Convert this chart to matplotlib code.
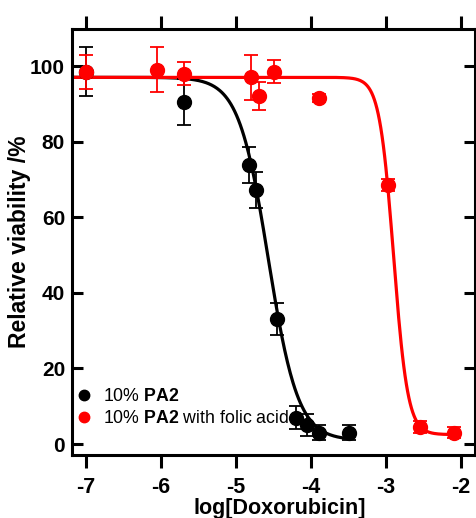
import numpy as np
import matplotlib
matplotlib.use("Agg")
import matplotlib.pyplot as plt
from matplotlib.lines import Line2D

plt.rcParams['font.family'] = ['Liberation Sans', 'DejaVu Sans']
plt.rcParams['mathtext.fontset'] = 'custom'
plt.rcParams['mathtext.rm'] = 'Liberation Sans'
plt.rcParams['mathtext.bf'] = 'Liberation Sans:bold'

# measured points: 10% PA2
pa2_x = [-7.0, -5.7, -4.83, -4.73, -4.45, -4.2, -4.05, -3.9, -3.5]
pa2_y = [98.5, 90.5, 73.8, 67.2, 33.0, 7.0, 5.0, 3.0, 3.0]
pa2_err = [6.5, 6.0, 4.7, 4.8, 4.2, 3.0, 3.0, 2.0, 2.0]

# measured points: 10% PA2 with folic acid
fa_x = [-7.0, -6.05, -5.7, -4.8, -4.7, -4.5, -3.9, -2.98, -2.55, -2.1]
fa_y = [98.5, 99.0, 98.0, 97.0, 92.0, 98.5, 91.5, 68.5, 4.5, 3.0]
fa_err = [4.5, 6.0, 3.0, 6.0, 3.7, 3.0, 1.0, 1.5, 1.5, 1.5]

# dose-response fit parameters (top, bottom, logIC50, hill, x range)
pa2_fit = [97.0, 1.0, -4.57, 2.2, -7.19, -3.5]
fa_fit = [97.0, 2.5, -2.9, 4.6, -7.19, -2.1]

x_ticks = [-7, -6, -5, -4, -3, -2]
y_ticks = [0, 20, 40, 60, 80, 100]

labels = [r'10% $\mathbf{PA2}$', r'10% $\mathbf{PA2}$ with folic acid']
colors = ['black', '#ff0000']


def logistic(fit):
    top, bottom, ic50, hill, x0, x1 = fit
    xs = np.linspace(x0, x1, 300)
    ys = bottom + (top - bottom) / (1 + 10 ** ((xs - ic50) * hill))
    return xs, ys


fig = plt.figure(figsize=(4.77, 5.18), dpi=100)
ax = fig.add_axes([0.151, 0.1216, 0.845, 0.8225])

xs, ys = logistic(pa2_fit)
ax.plot(xs, ys, color=colors[0], lw=2.3, zorder=2)
xs, ys = logistic(fa_fit)
ax.plot(xs, ys, color=colors[1], lw=2.3, zorder=2)

ax.errorbar(pa2_x, pa2_y, yerr=pa2_err, fmt='o', color=colors[0], ms=10,
            ecolor=colors[0], elinewidth=1.3, capsize=5, capthick=1.3, zorder=3)
ax.errorbar(fa_x, fa_y, yerr=fa_err, fmt='o', color=colors[1], ms=10,
            ecolor=colors[1], elinewidth=1.3, capsize=5, capthick=1.3, zorder=4)

ax.set_xlim(-7.187, -1.813)
ax.set_ylim(-2.9, 109.8)
ax.set_xticks(x_ticks)
ax.set_yticks(y_ticks)
ax.set_xticklabels([str(t) for t in x_ticks], fontweight='bold', fontsize=15.5)
ax.set_yticklabels([str(t) for t in y_ticks], fontweight='bold', fontsize=15)

for s in ax.spines.values():
    s.set_linewidth(2.2)
ax.tick_params(axis='x', direction='out', top=True, length=9.5, width=2.2, pad=6.5)
ax.tick_params(axis='y', direction='in', right=True, length=8, width=2.2, pad=5)

ax.set_xlabel('log[Doxorubicin]', fontweight='bold', fontsize=15.5, labelpad=-0.5)
ax.xaxis.label.set_x(0.516)
ax.set_ylabel('Relative viability /%', fontweight='bold', fontsize=16.5, labelpad=-1)

handles = [Line2D([], [], ls='none', marker='o', ms=7.5, color=c) for c in colors]
ax.legend(handles, labels, loc='lower left', bbox_to_anchor=(-0.016, 0.04),
          frameon=False, fontsize=12.8, handletextpad=0.6, handlelength=0.9,
          labelspacing=0.3, borderaxespad=0.2)

fig.savefig('out.png', dpi=100)
